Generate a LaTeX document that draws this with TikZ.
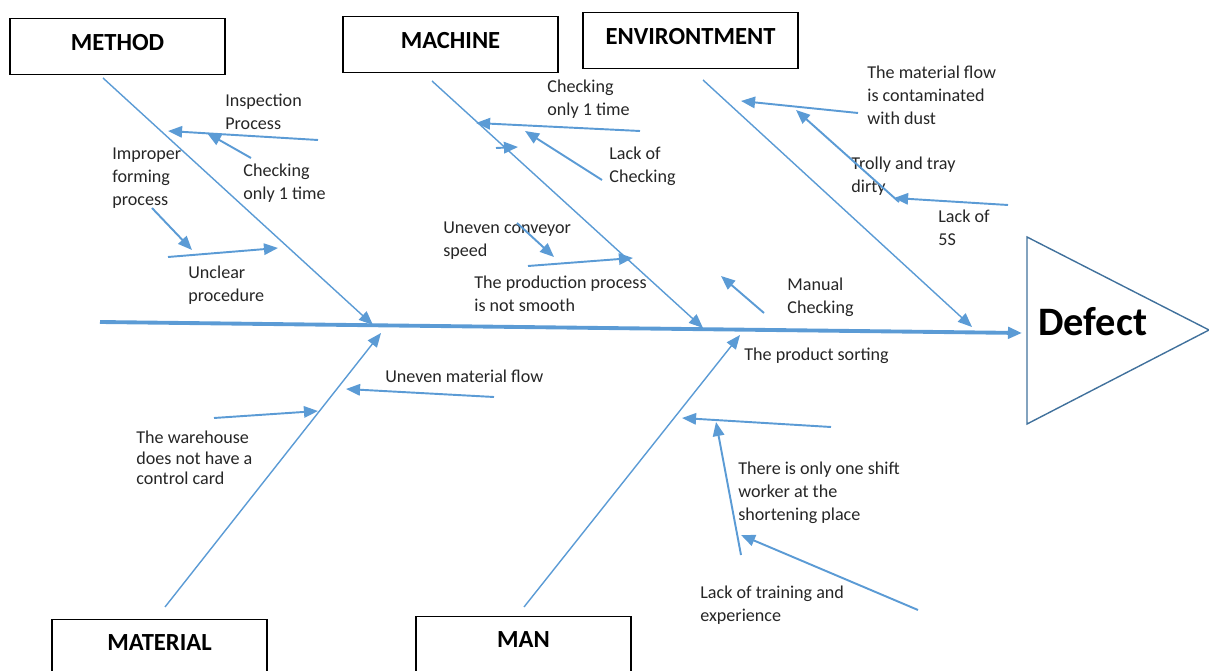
\documentclass[tikz,border=0pt]{standalone}
\usepackage{fontspec}
\setmainfont{Carlito}
\usetikzlibrary{arrows.meta}
\definecolor{bonecol}{HTML}{5B9BD5}
\definecolor{headcol}{HTML}{41719C}
\definecolor{txtcol}{HTML}{262626}

\begin{document}
\begin{tikzpicture}[x=0.02cm,y=-0.02cm,
	>={Triangle[length=8pt,width=6.5pt]},
	catbox/.style={draw=black,line width=0.75pt,minimum width=4.3cm,minimum height=1.12cm,anchor=north,inner sep=0pt},
	cat/.style={font=\fontsize{14}{16}\selectfont\bfseries,text=black},
	cause/.style={font=\fontsize{10.3}{13}\selectfont,text=txtcol,align=left,anchor=west,inner sep=0pt},
	spine/.style={color=bonecol,line width=2.2pt,->},
	bone/.style={color=bonecol,line width=0.8pt,->},
	sub/.style={color=bonecol,line width=1.1pt,->}]
			\clip (0,0) rectangle (1209,671);
			
			\node[catbox] (methodbox) at (117.5,18) {};
			\node[catbox] (machinebox) at (450.5,16) {};
			\node[catbox] (envbox) at (690.5,12) {};
			\node[catbox,minimum height=1.4cm] (materialbox) at (159.5,619) {};
			\node[catbox,minimum height=1.4cm] (manbox) at (523.5,616) {};
			\node[cat] (method) at ([yshift=-0.5cm]methodbox.north) {METHOD};
			\node[cat] (machine) at ([yshift=-0.5cm]machinebox.north) {MACHINE};
			\node[cat] (env) at ([yshift=-0.5cm]envbox.north) {ENVIRONTMENT};
			\node[cat] (material) at ([yshift=-0.48cm]materialbox.north) {MATERIAL};
			\node[cat] (man) at ([yshift=-0.48cm]manbox.north) {MAN};
			
			\draw[headcol,line width=0.8pt] (1027,237) -- (1209,330) -- (1027,424) -- cycle;
			\node[inner sep=0pt,anchor=west,font=\fontsize{23}{26}\selectfont\bfseries] (defect) at (1038,322) {Defect};
			
			\coordinate (tail) at (100,322);
			\coordinate (head) at (1022,333);
			\coordinate (m0) at (103,78);
			\coordinate (m1) at (373,325);
			\coordinate (k0) at (432,81);
			\coordinate (k1) at (703,328);
			\coordinate (e0) at (703,80);
			\coordinate (e1) at (972,327);
			\coordinate (t0) at (165,607);
			\coordinate (t1) at (381,333);
			\coordinate (w0) at (524,607);
			\coordinate (w1) at (740,335);
			
			\path (tail) edge[spine] (head);
			\path (m0) edge[bone] (m1);
			\path (k0) edge[bone] (k1);
			\path (e0) edge[bone] (e1);
			\path (t0) edge[bone] (t1);
			\path (w0) edge[bone] (w1);
			
			\node[cause] (inspect) at (225,111.5) {Inspection\\Process};
			\node[cause] (check1) at (243,183.5) {Checking\\only 1 time};
			\node[cause] (improper) at (112,178) {Improper\\forming\\process};
			\node[cause] (unclear) at (188,285) {Unclear\\procedure};
			\node[cause] (check2) at (547,99.5) {Checking\\only 1 time};
			\node[cause] (lackcheck) at (609,166.5) {Lack of\\Checking};
			\node[cause] (conveyor) at (443,241) {Uneven conveyor\\speed};
			\node[cause] (smooth) at (474,294) {The production process\\is not smooth};
			\node[cause] (manual) at (787,297) {Manual\\Checking};
			\node[cause] (dust) at (867,95) {The material flow\\is contaminated\\with dust};
			\node[cause] (trolly) at (851,176) {Trolly and tray\\dirty};
			\node[cause] (fives) at (938,227.5) {Lack of\\5S};
			\node[cause] (sorting) at (744,356) {The product sorting};
			\node[cause] (flow) at (385,376) {Uneven material flow};
			\node[cause,font=\fontsize{10.3}{11.8}\selectfont] (card) at (136,458) {The warehouse\\does not have a\\control card};
			\node[cause] (shift) at (738,493) {There is only one shift\\worker at the\\shortening place};
			\node[cause] (training) at (700,605.5) {Lack of training and\\experience};
			
			\coordinate (a1) at (318,140);  \coordinate (b1) at (168,131);
			\coordinate (a2) at (251,158);  \coordinate (b2) at (207,133);
			\coordinate (a3) at (152,208);  \coordinate (b3) at (192,250);
			\coordinate (a4) at (168,257);  \coordinate (b4) at (278,248);
			\coordinate (a5) at (640,131);  \coordinate (b5) at (476,123);
			\coordinate (a6) at (602,180);  \coordinate (b6) at (525,131);
			\coordinate (a7) at (496,148);  \coordinate (b7) at (518,147);
			\coordinate (a8) at (517,223);  \coordinate (b8) at (554,257);
			\coordinate (a9) at (528,266);  \coordinate (b9) at (633,258);
			\coordinate (a10) at (764,313); \coordinate (b10) at (721,276);
			\coordinate (a11) at (858,113); \coordinate (b11) at (741,101);
			\coordinate (a12) at (899,202); \coordinate (b12) at (796,110);
			\coordinate (a13) at (1008,205); \coordinate (b13) at (894,198);
			\coordinate (a14) at (494,397); \coordinate (b14) at (346,389);
			\coordinate (a15) at (214,418); \coordinate (b15) at (318,411);
			\coordinate (a16) at (831,427); \coordinate (b16) at (682,418);
			\coordinate (a17) at (741,555); \coordinate (b17) at (716,422);
			\coordinate (a18) at (918,610); \coordinate (b18) at (741,535);
			
			\foreach \i in {1,...,18}
				\path (a\i) edge[sub] (b\i);
		\end{tikzpicture}
\end{document}
